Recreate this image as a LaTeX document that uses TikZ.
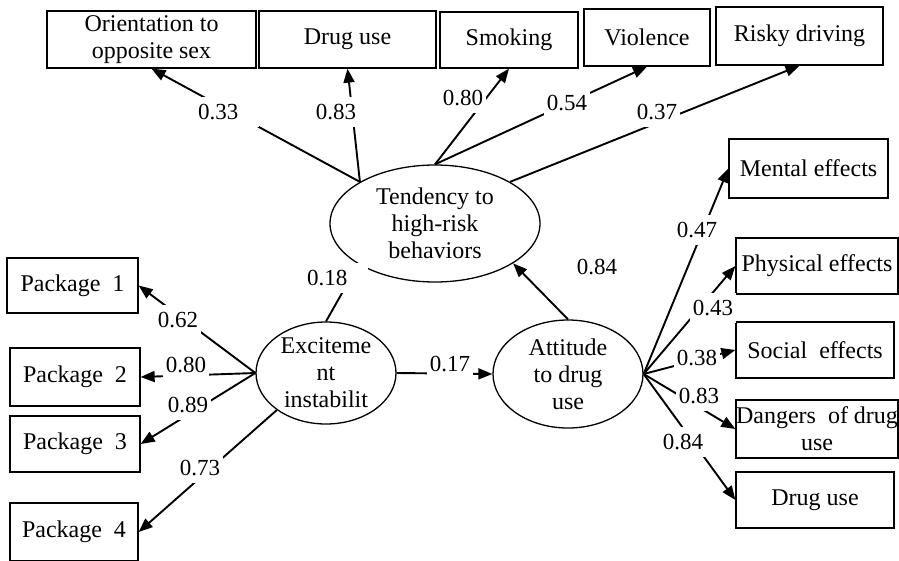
\documentclass[tikz,border=0pt]{standalone}
\usepackage{fontspec}
\setmainfont{Liberation Serif}
\usetikzlibrary{arrows.meta,shapes.geometric}

\begin{document}
\begin{tikzpicture}[
    x=1pt, y=-1pt,
    font=\fontsize{24}{27}\selectfont,
    box/.style={draw, line width=1.3pt, align=center, inner sep=0pt},
    latent/.style={draw, ellipse, line width=1.3pt, align=center, inner sep=0pt},
    path/.style={line width=1.9pt, -{Triangle[length=14pt, width=11pt]}},
    coef/.style={fill=white, inner xsep=3pt, inner ysep=7pt, font=\fontsize{23}{27}\selectfont},
    coefwide/.style={coef, text width=58pt, align=left}]

  \useasboundingbox (0,0) rectangle (899,560);

  % latent variables
  \node [latent, minimum width=210pt, minimum height=117pt] (tend) at (435,223.5) {Tendency to\\high-risk\\behaviors};
  \node [latent, minimum width=140pt, minimum height=102pt] (exc) at (326,373) {Exciteme\\nt\\instabilit};
  \node [latent, minimum width=150pt, minimum height=108pt] (att) at (568,374) {Attitude\\to drug\\use};

  % top row
  \node [box, minimum width=209pt, minimum height=57pt] (orient) at (151.5,39.5) {Orientation to\\opposite sex};
  \node [box, minimum width=177pt, minimum height=57pt] (drugA) at (347.5,39.5) {Drug use};
  \node [box, minimum width=138pt, minimum height=56pt] (smok) at (509,40) {Smoking};
  \node [box, minimum width=126pt, minimum height=57pt] (viol) at (647,37.5) {Violence};
  \node [box, minimum width=167pt, minimum height=58pt] (risk) at (799.5,36) {Risky driving};

  % right column
  \node [box, minimum width=159pt, minimum height=59pt] (ment) at (808.5,168.5) {Mental effects};
  \node [box, minimum width=162pt, minimum height=56pt] (phys) at (817,266) {Physical effects};
  \node [box, minimum width=158pt, minimum height=56pt] (soc) at (815,350) {Social~~effects};
  \node [box, minimum width=162pt, minimum height=58pt] (dang) at (817,429) {Dangers~~of drug\\use};
  \node [box, minimum width=158pt, minimum height=56pt] (drugB) at (815,500) {Drug use};

  % left column
  \node [box, minimum width=131pt, minimum height=55pt] (p1) at (72.5,285.5) {Package~~1};
  \node [box, minimum width=130pt, minimum height=58pt] (p2) at (75,377) {Package~~2};
  \node [box, minimum width=130pt, minimum height=56pt] (p3) at (75,444) {Package~~3};
  \node [box, minimum width=128pt, minimum height=58pt] (p4) at (74,532) {Package~~4};

  % paths
  \draw [path] (tend.151) -- (orient.south);
  \draw [path] (tend.151) -- (drugA.south);
  \draw [path] (tend.north) -- (smok.south);
  \draw [path] (tend.north) -- (viol.south);
  \draw [path] (tend.29) -- (risk.south);
  \draw [path] (exc.north) -- (tend.208);
  \draw [path] (exc.east) -- (att.west);
  \draw [path] (att.north) -- (tend.-27);
  \foreach \b in {ment,phys,soc,dang,drugB}
    \draw [path] (att.east) -- (\b.west);
  \foreach \b in {p1,p2,p3}
    \draw [path] (exc.west) -- (\b.east);
  \draw [path] (exc.217) -- (p4.east);

  % coefficients
  \foreach \lx/\ly/\lv [count=\i] in {336/112/0.83, 463/98/0.80, 567/103/0.54, 657/112/0.37,
      450/364.5/0.17, 597/267/0.84, 697/230/0.47, 713/308/0.43, 697/358/0.38, 699/396/0.83,
      683/442/0.84, 178/320/0.62, 186/365/0.80, 188/405/0.89, 200/468/0.73}
    \node [coef] (c\i) at (\lx,\ly) {\lv};
  \node [coefwide] (cA) at (227,112) {0.33};
  \node [coefwide] (cB) at (336,278) {0.18};
\end{tikzpicture}
\end{document}
